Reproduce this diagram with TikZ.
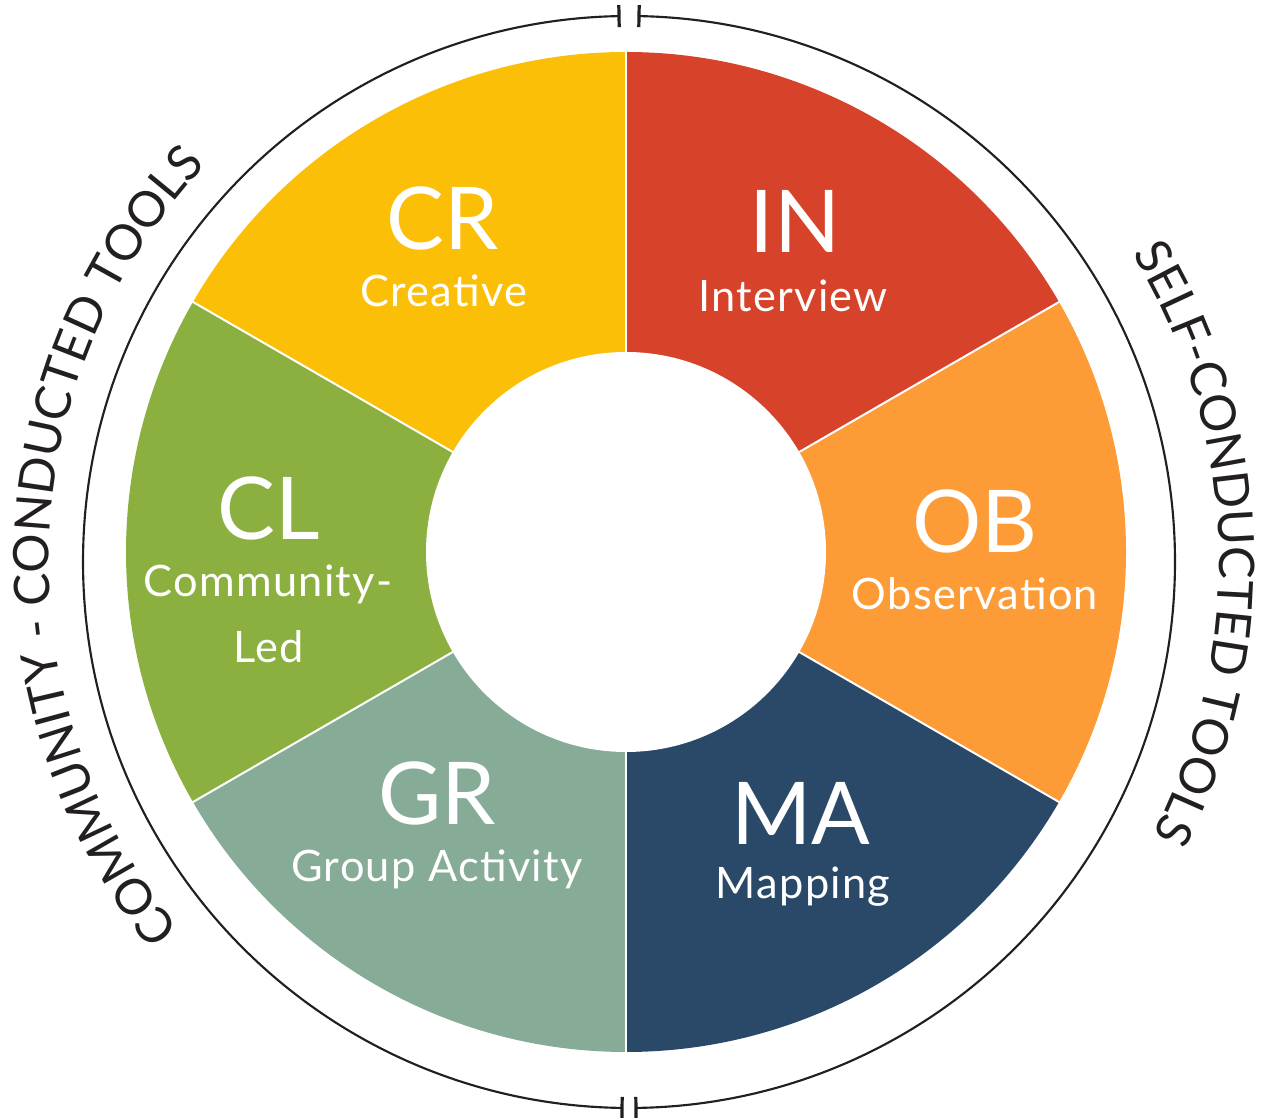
\documentclass[tikz,border=0pt]{standalone}
\usepackage{fontspec}
\setmainfont{Lato}
\newfontfamily\trackedfont{Lato}[LetterSpace=3]
\usetikzlibrary{decorations.text}
\definecolor{inred}{HTML}{D6422A}
\definecolor{oborange}{HTML}{FD9B37}
\definecolor{manavy}{HTML}{2A4968}
\definecolor{grsage}{HTML}{86AC98}
\definecolor{clgreen}{HTML}{8BB040}
\definecolor{cryellow}{HTML}{FBBF07}
\definecolor{ringcol}{HTML}{231F20}
\newcommand{\curvfont}{\fontsize{36.8}{36.8}\selectfont}
\tikzset{
  bigcode/.style={font=\fontsize{65}{65}\selectfont, text=white, inner sep=0pt, anchor=base},
  toolname/.style={font=\trackedfont\fontsize{32.5}{32.5}\selectfont, text=white, inner sep=0pt, anchor=base},
  sepline/.style={white, line width=1.5pt},
  ringline/.style={ringcol, line width=1.6pt},
  tickline/.style={ringcol, line width=2.4pt},
}
\begin{document}
\begin{tikzpicture}[x=0.75pt, y=0.75pt]
\useasboundingbox (0,0) rectangle (1266,1117);
% centres
\coordinate (C) at (626,565);
\coordinate (R) at (629,555);
% sectors
\fill[inred]    (C) -- ++(90:500)  arc[start angle=90,  end angle=30,   radius=375pt] -- cycle;
\fill[oborange] (C) -- ++(30:500)  arc[start angle=30,  end angle=-30,  radius=375pt] -- cycle;
\fill[manavy]   (C) -- ++(-30:500) arc[start angle=-30, end angle=-90,  radius=375pt] -- cycle;
\fill[grsage]   (C) -- ++(-90:500) arc[start angle=-90, end angle=-150, radius=375pt] -- cycle;
\fill[clgreen]  (C) -- ++(210:500) arc[start angle=210, end angle=150,  radius=375pt] -- cycle;
\fill[cryellow] (C) -- ++(150:500) arc[start angle=150, end angle=90,   radius=375pt] -- cycle;
% separators
\foreach \a in {90,30,-30,-90,-150,150} {
  \draw[sepline] (C) -- ++(\a:501);
}
% inner white disc
\fill[white] (C) circle[radius=150pt];
% outer ring
\draw[ringline] (R) ++(88.95:546) arc[start angle=88.95, end angle=-89.27, radius=409.5pt];
\draw[ringline] (R) ++(91.05:546) arc[start angle=91.05, end angle=269.27, radius=409.5pt];
% gap ticks
\path (R) ++(88.95:535) coordinate (t1a);  \path (R) ++(88.95:557) coordinate (t1b);
\path (R) ++(91.05:535) coordinate (t2a);  \path (R) ++(91.05:557) coordinate (t2b);
\path (R) ++(-89.27:535) coordinate (t3a); \path (R) ++(-89.27:557) coordinate (t3b);
\path (R) ++(269.27:535) coordinate (t4a); \path (R) ++(269.27:557) coordinate (t4b);
\draw[tickline] (t1a) -- (t1b);
\draw[tickline] (t2a) -- (t2b);
\draw[tickline] (t3a) -- (t3b);
\draw[tickline] (t4a) -- (t4b);
% curved texts
\path[decorate, decoration={text along path, text align=center,
  text={|\curvfont\color{ringcol}|SELF-CONDUCTED TOOLS}}]
  (R) ++(47:590) arc[start angle=47, end angle=-43, radius=442.5pt];
\path[decorate, decoration={text along path, text align=center,
  text={|\curvfont\color{ringcol}|COMMUNITY - CONDUCTED TOOLS}}]
  (R) ++(238:580) arc[start angle=238, end angle=118, radius=435pt];
% labels
\node[bigcode]  (crc) at (443,867) {CR};
\node[toolname] (crn) at (444,810) {Creative};
\node[bigcode]  (inc) at (795,864) {IN};
\node[toolname] (inn) at (793,805) {Interview};
\node[bigcode]  (obc) at (975,564) {OB};
\node[toolname] (obn) at (975,507) {Observation};
\node[bigcode]  (clc) at (269,577) {CL};
\node[toolname] (cln1) at (268,520) {Community-};
\node[toolname] (cln2) at (269,454) {Led};
\node[bigcode]  (grc) at (437,292) {GR};
\node[toolname] (grn) at (437,235) {Group Activity};
\node[bigcode]  (mac) at (801,272) {MA};
\node[toolname] (man) at (803,219) {Mapping};
\end{tikzpicture}
\end{document}
